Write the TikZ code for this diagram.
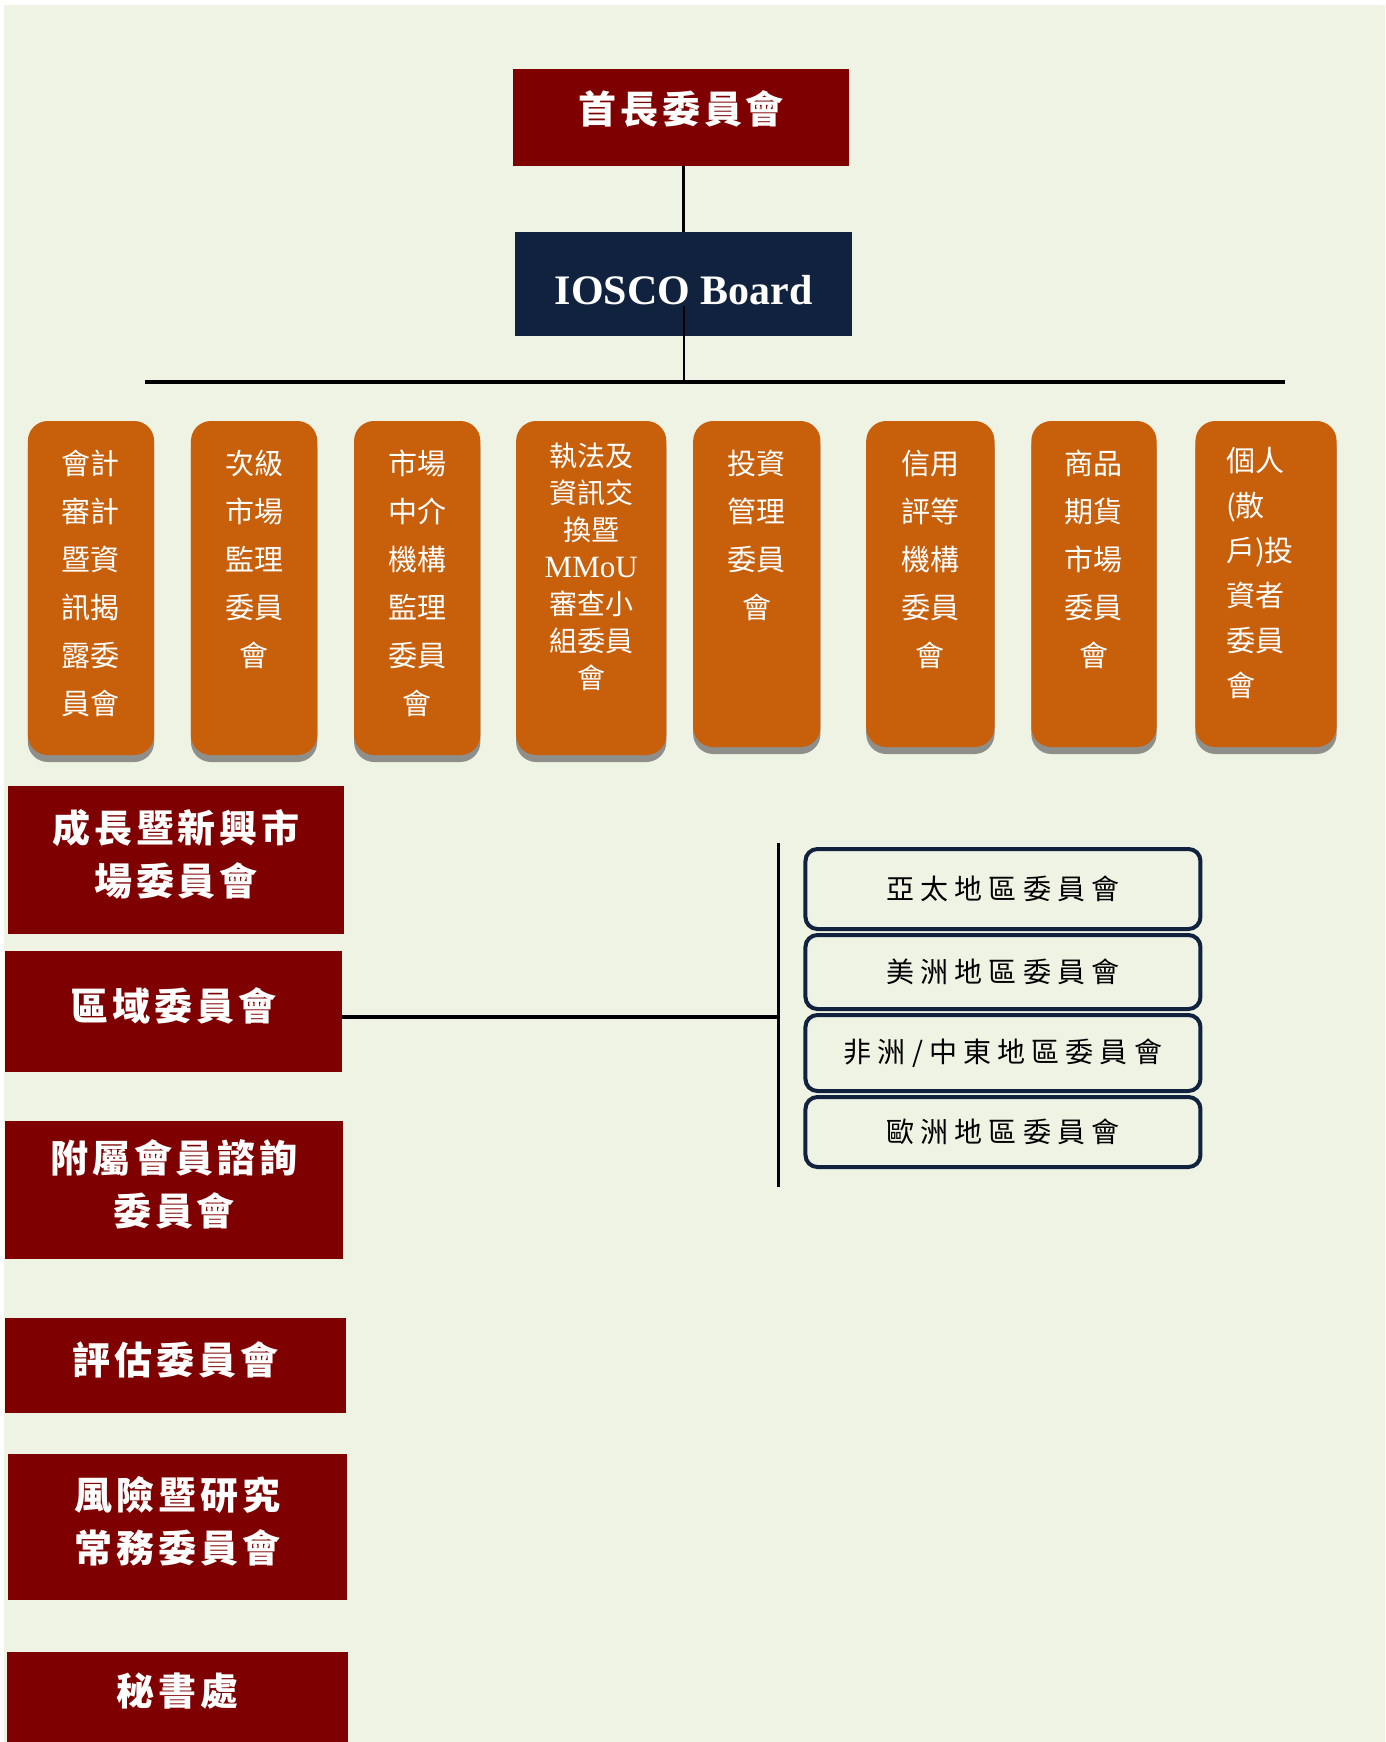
\documentclass[tikz,border=0pt]{standalone}
\usepackage{fontspec}
\setmainfont{Liberation Serif}
\newfontfamily\cjk{Noto Sans CJK TC}
\newfontfamily\cjkwide[LetterSpace=10]{Noto Sans CJK TC}
\newfontfamily\cjkspaced[LetterSpace=22]{Noto Sans CJK TC}
\usetikzlibrary{positioning,shadows}
\definecolor{bgcream}{HTML}{EEF3E4}
\definecolor{maroon}{HTML}{7F0000}
\definecolor{navy}{HTML}{11223F}
\definecolor{orangebox}{HTML}{C75F0B}
\definecolor{shadowgray}{HTML}{8E8E8A}
\begin{document}
\begin{tikzpicture}[x=0.9945pt, y=-1pt,
  every node/.style={inner sep=0pt},
  redbox/.style={fill=maroon, text=white, align=center, text depth=15pt,
    font=\cjkwide\bfseries\fontsize{38}{53}\selectfont},
  obox/.style={fill=orangebox, rounded corners=20pt,
    drop shadow={shadow xshift=0pt, shadow yshift=-7pt, fill=shadowgray, opacity=1}},
  otext/.style={text=white, align=center, font=\cjk\fontsize{29}{48}\selectfont},
  regbox/.style={draw=navy, line width=4pt, fill=bgcream, rounded corners=12pt,
    minimum width=395pt, font=\cjkspaced\fontsize{28}{34}\selectfont}]
  \useasboundingbox (0,0) rectangle (1392.66,1742);
  \fill[bgcream] (4,5) rectangle (1392.66,1742);

  \node[redbox, text depth=20pt, minimum width=336pt, minimum height=97pt] (chief) at (685,117.5) {首長委員會};
  \node[fill=navy, text=white, minimum width=337pt, minimum height=104pt, text height=42pt,
    font=\bfseries\fontsize{42}{50}\selectfont] (board) at (687.5,284) {IOSCO Board};
  \draw[line width=2.5pt] (board.north) -- (board.north |- chief.south);
  \coordinate (busin) at (688,306);
  \coordinate (busL) at (146,382);
  \coordinate (busR) at (1292,382);
  \draw[line width=2.5pt] (busin) -- (busin |- busL);
  \draw[line width=3.5pt] (busL) -- (busR);

  \node[obox, minimum width=126.3pt, minimum height=334pt] (o1) at (91.5,588) {};
  \node[otext, below=29pt of o1.north] (t1) {會計\\審計\\暨資\\訊揭\\露委\\員會};
  \node[obox, minimum width=126.3pt, minimum height=334pt] (o2) at (255.5,588) {};
  \node[otext, below=29pt of o2.north] (t2) {次級\\市場\\監理\\委員\\會};
  \node[obox, minimum width=126.3pt, minimum height=334pt] (o3) at (419.5,588) {};
  \node[otext, below=29pt of o3.north] (t3) {市場\\中介\\機構\\監理\\委員\\會};
  \node[obox, minimum width=150.2pt, minimum height=334pt] (o4) at (594.5,588) {};
  \node[otext, font=\cjk\fontsize{28}{37}\selectfont, below=22pt of o4.north] (t4)
    {執法及\\資訊交\\換暨\\{\rmfamily\fontsize{31}{37}\selectfont MMoU}\\審查小\\組委員\\會};
  \node[obox, minimum width=127.3pt, minimum height=326pt] (o5) at (761,584) {};
  \node[otext, below=29pt of o5.north] (t5) {投資\\管理\\委員\\會};
  \node[obox, minimum width=128.3pt, minimum height=326pt] (o6) at (935.5,584) {};
  \node[otext, below=29pt of o6.north] (t6) {信用\\評等\\機構\\委員\\會};
  \node[obox, minimum width=125.3pt, minimum height=326pt] (o7) at (1100,584) {};
  \node[otext, below=29pt of o7.north] (t7) {商品\\期貨\\市場\\委員\\會};
  \node[obox, minimum width=141.2pt, minimum height=326pt] (o8) at (1273,584) {};
  \node[otext, align=left, font=\cjk\fontsize{29}{45}\selectfont, below=26pt of o8.north,
    xshift=-6pt] (t8) {個人\\(散\\戶)投\\資者\\委員\\會};

  \node[redbox, minimum width=336pt, minimum height=148pt] (growth) at (177,860) {成長暨新興市\\場委員會};
  \node[redbox, minimum width=337pt, minimum height=121pt] (region) at (174.5,1011.5) {區域委員會};
  \node[redbox, minimum width=338pt, minimum height=138pt] (affiliate) at (175,1190) {附屬會員諮詢\\委員會};
  \node[redbox, minimum width=341pt, minimum height=95pt] (assess) at (176.5,1365.5) {評估委員會};
  \node[redbox, minimum width=339pt, minimum height=146pt] (risk) at (178.5,1527) {風險暨研究\\常務委員會};
  \node[redbox, minimum width=341pt, minimum height=90pt] (secretariat) at (178.5,1697) {秘書處};

  \coordinate (regbus) at (783,1017);
  \coordinate (vtop) at (783,843);
  \coordinate (vbot) at (783,1187);
  \draw[line width=4pt] (region.east |- regbus) -- (regbus);
  \draw[line width=2.5pt] (vtop) -- (vbot);

  \node[regbox, minimum height=80pt] (asia) at (1008.5,889) {亞太地區委員會};
  \node[regbox, minimum height=74pt] (americas) at (1008.5,972) {美洲地區委員會};
  \node[regbox, minimum height=76pt] (africa) at (1008.5,1053) {非洲/中東地區委員會};
  \node[regbox, minimum height=70pt] (europe) at (1008.5,1132) {歐洲地區委員會};
\end{tikzpicture}
\end{document}
